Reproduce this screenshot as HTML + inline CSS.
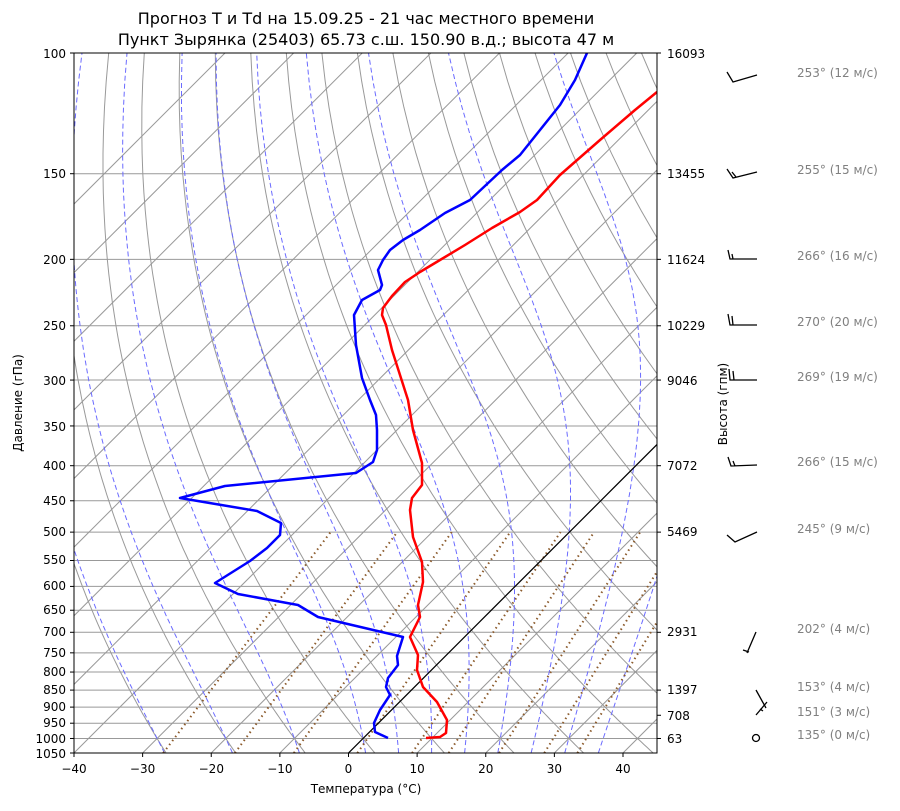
<!DOCTYPE html>
<html><head><meta charset="utf-8"><style>
body{margin:0;background:#fff;}
svg{font-family:"DejaVu Sans","Liberation Sans",sans-serif;}
</style></head><body>
<svg id="s" width="900" height="806" viewBox="0 0 900 806" xmlns="http://www.w3.org/2000/svg">
<rect width="900" height="806" fill="#fff"/>
<defs><clipPath id="c"><rect x="74" y="53" width="583" height="700"/></clipPath></defs>
<g id="grid" clip-path="url(#c)"></g>
<g clip-path="url(#c)">
<line x1="348.5" y1="753" x2="700" y2="401.5" stroke="#000" stroke-width="1.2"/>
<polyline fill="none" stroke="#f00" stroke-width="2.5" stroke-linejoin="round" points="657,92 635,110 600,140 560,175 537,200 520,212 492,228 465,245 440,260 420,272 405,282 392,296 383,308 382,315 386,325 392,350 400,375 408,400 413,430 422,463 422,485 412,498 410,510 413,537 422,562 423,582 418,605 420,617 410,637 418,655 417,670 423,687 437,702 447,720 446,733 440,737 426,738"/>
<polyline fill="none" stroke="#00f" stroke-width="2.5" stroke-linejoin="round" points="587,53 575,80 560,105 540,130 520,155 502,170 470,200 445,213 420,230 403,240 390,250 383,260 378,270 382,285 380,290 362,300 354,315 356,345 362,378 370,400 376,415 377,430 377,450 373,462 356,473 225,486 180,498 257,511 281,523 280,535 267,548 250,561 215,583 238,594 298,605 318,617 403,637 397,656 398,665 388,678 386,687 390,695 380,710 374,723 375,732 388,738"/>
</g>
<rect x="74" y="53" width="583" height="700" fill="none" stroke="#000" stroke-width="1"/>
<g id="ticks" stroke="#000"></g>
<g font-size="12" fill="#000" text-anchor="end">
<text x="66" y="58">100</text><text x="66" y="178">150</text><text x="66" y="264">200</text><text x="66" y="330">250</text><text x="66" y="385">300</text><text x="66" y="431">350</text><text x="66" y="470">400</text><text x="66" y="505">450</text><text x="66" y="536">500</text><text x="66" y="564">550</text><text x="66" y="590">600</text><text x="66" y="614">650</text><text x="66" y="636">700</text><text x="66" y="657">750</text><text x="66" y="676">800</text><text x="66" y="694">850</text><text x="66" y="711">900</text><text x="66" y="727">950</text><text x="66" y="743">1000</text><text x="66" y="758">1050</text>
</g>
<g font-size="12" fill="#000" text-anchor="middle">
<text x="74" y="773">−40</text><text x="142.6" y="773">−30</text><text x="211.3" y="773">−20</text><text x="279.9" y="773">−10</text><text x="348.5" y="773">0</text><text x="417.1" y="773">10</text><text x="485.8" y="773">20</text><text x="554.4" y="773">30</text><text x="623" y="773">40</text>
<text x="366" y="793">Температура (°C)</text>
<text x="366" y="24" font-size="16">Прогноз T и Td на 15.09.25 - 21 час местного времени</text>
<text x="366" y="45" font-size="16">Пункт Зырянка (25403) 65.73 с.ш. 150.90 в.д.; высота 47 м</text>
</g>
<text transform="translate(22,403) rotate(-90)" font-size="12" text-anchor="middle">Давление (гПа)</text>
<text transform="translate(727,404) rotate(-90)" font-size="12" text-anchor="middle">Высота (гпм)</text>
<g font-size="12" fill="#000">
<text x="667" y="58">16093</text><text x="667" y="178">13455</text><text x="667" y="264">11624</text><text x="667" y="330">10229</text><text x="667" y="385">9046</text><text x="667" y="470">7072</text><text x="667" y="536">5469</text><text x="667" y="636">2931</text><text x="667" y="694">1397</text><text x="667" y="720">708</text><text x="667" y="743">63</text>
</g>
<g font-size="12" fill="#808080">
<text x="797" y="77">253° (12 м/с)</text><text x="797" y="174">255° (15 м/с)</text><text x="797" y="260">266° (16 м/с)</text><text x="797" y="326">270° (20 м/с)</text><text x="797" y="381">269° (19 м/с)</text><text x="797" y="466">266° (15 м/с)</text><text x="797" y="533">245° (9 м/с)</text><text x="797" y="633">202° (4 м/с)</text><text x="797" y="691">153° (4 м/с)</text><text x="797" y="716">151° (3 м/с)</text><text x="797" y="739">135° (0 м/с)</text>
</g>
<g stroke="#000" stroke-width="1.3" fill="none">
<path d="M757,75 L733,82 L727,72"/>
<path d="M757,172 L733,178 L727,169 M736,177 L732,172"/>
<path d="M757,259 L730,259 L728,250 M733,259 L732,254"/>
<path d="M757,325 L730,325 L728,314 M733,325 L732,316"/>
<path d="M757,380 L730,380 L729,369 M734,380 L733,371"/>
<path d="M757,465 L731,466 L728,457 M735,466 L733,461"/>
<path d="M757,532 L735,542 L727,535"/>
<path d="M756,632 L747,653 M743,650 L749,652"/>
<path d="M756,690 L766,708 M760,709 L763,711"/>
<path d="M756,715 L767,702"/>
<circle cx="756" cy="738" r="3.5"/>
</g>
<script>
(function(){
var NS="http://www.w3.org/2000/svg",g=document.getElementById("grid"),tk=document.getElementById("ticks");
function Y(p){return 53+297.7*Math.log(p/100);}
function X(T,p){return 348.5+6.8625*T+(753-Y(p));}
function add(par,tag,a){var e=document.createElementNS(NS,tag);for(var k in a)e.setAttribute(k,a[k]);par.appendChild(e);return e;}
var ps=[100,150,200,250,300,350,400,450,500,550,600,650,700,750,800,850,900,950,1000,1050];
ps.forEach(function(p){var y=Y(p);add(g,"line",{x1:74,x2:657,y1:y,y2:y,stroke:"#999","stroke-width":1});add(tk,"line",{x1:70,x2:74,y1:y,y2:y});});
[100,150,200,250,300,400,500,700,850,925,1000].forEach(function(p){var y=Y(p);add(tk,"line",{x1:657,x2:661,y1:y,y2:y});});
for(var T=-40;T<=40;T+=10){var x=348.5+6.8625*T;add(tk,"line",{x1:x,x2:x,y1:753,y2:757});}
for(var T=-120;T<=50;T+=10){add(g,"line",{x1:X(T,1050),y1:753,x2:X(T,100),y2:53,stroke:"#999","stroke-width":1});}
function pts(f){var s=[];for(var p=1050;p>=100;p-=10){var T=f(p);if(T===null)continue;s.push(X(T,p).toFixed(1)+","+Y(p).toFixed(1));}return s.join(" ");}
for(var t0=-30;t0<=200;t0+=10){(function(t0){add(g,"polyline",{points:pts(function(p){return (t0+273.15)*Math.pow(p/1000,0.286)-273.15;}),fill:"none",stroke:"#999","stroke-width":1});})(t0);}
function es(T){return 6.112*Math.exp(17.67*T/(T+243.5));}
function moist(t0){var res={},T=t0+273.15,p=1000;var step=function(p,T){var Tc=T-273.15,e=es(Tc),rs=0.622*e/(p-e);var Rd=287,Lv=2.501e6,Cp=1005;return (1/p)*(Rd*T+Lv*rs)/(Cp+Lv*Lv*rs*0.622/(Rd*T*T));};
res[1000]=T;var Tu=T;for(p=1000;p<1050;p+=1){Tu+=step(p,Tu);if((p+1)%10==0)res[p+1]=Tu;}
for(p=1000;p>100;p-=1){T-=step(p,T);if((p-1)%10==0)res[p-1]=T;}return res;}
[-30,-20,-10,0,5,10,15,20,25,30,35].forEach(function(t0){var r=moist(t0);add(g,"polyline",{points:pts(function(p){return r[p]!==undefined?r[p]-273.15:null;}),fill:"none",stroke:"#6b6bff","stroke-width":1,"stroke-dasharray":"5,3"});});
[0.0004,0.001,0.002,0.004,0.007,0.01,0.016,0.024,0.032].forEach(function(w){var s=[];[1050,500].forEach(function(p){var e=p*w/(0.622+w),l=Math.log(e/6.112),Td=243.5*l/(17.67-l);s.push(X(Td,p).toFixed(1)+","+Y(p).toFixed(1));});add(g,"polyline",{points:s.join(" "),fill:"none",stroke:"#8b5a2b","stroke-width":2,"stroke-dasharray":"1.5,3.5"});});
})();
</script>
</svg>
</body></html>
